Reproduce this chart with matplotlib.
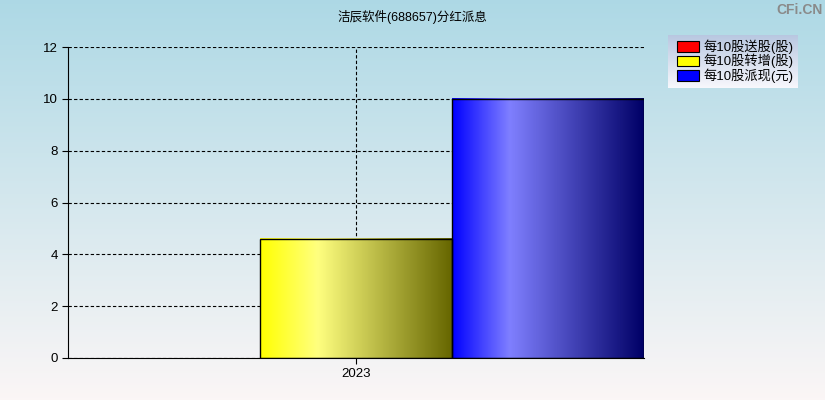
import numpy as np
import matplotlib.pyplot as plt
from matplotlib.patches import Rectangle

plt.rcParams['font.family'] = ['Liberation Sans', 'Noto Sans CJK SC', 'DejaVu Sans']

# datos
titulo = '洁辰软件(688657)分红派息'
anios = ['2023']
series = ['每10股送股(股)', '每10股转增(股)', '每10股派现(元)']
valores = [0.0, 4.6, 10.0]
colores = [(1, 0, 0), (1, 1, 0), (0, 0, 1)]


def gradiente_barra(color, n=256):
    # claro hacia el 30 % y oscuro al final
    c = np.array(color, dtype=float)
    t = np.linspace(0, 1, n)
    claro = c + (1 - c) * 0.5
    oscuro = c * 0.4
    out = np.zeros((1, n, 3))
    for i, ti in enumerate(t):
        if ti < 0.3:
            k = ti / 0.3
            out[0, i] = c * (1 - k) + claro * k
        else:
            k = (ti - 0.3) / 0.7
            out[0, i] = claro * (1 - k) + oscuro * k
    return out


fig = plt.figure(figsize=(8.25, 4), dpi=100)

# fondo degradado
fondo = fig.add_axes([0, 0, 1, 1], zorder=-10)
grad = np.linspace(0, 1, 256).reshape(-1, 1)
arriba = np.array([0.68, 0.85, 0.90])
abajo = np.array([0.985, 0.965, 0.965])
img = arriba * (1 - grad)[..., None] + abajo * grad[..., None]
fondo.imshow(img, aspect='auto', extent=[0, 1, 0, 1])
fondo.axis('off')

ax = fig.add_axes([68 / 825, 42 / 400, 576 / 825, 311 / 400])
ax.patch.set_alpha(0)

x = np.arange(len(series)) - 1
barras = ax.bar(x, valores, width=1.0, facecolor='none', edgecolor='black', linewidth=1, zorder=3)
for b, col, v in zip(barras, colores, valores):
    if v <= 0:
        b.set_visible(False)
        continue
    ax.imshow(gradiente_barra(col), aspect='auto', zorder=2,
              extent=[b.get_x(), b.get_x() + b.get_width(), 0, b.get_height()])

ax.set_xlim(-1.5, 1.5)
ax.set_ylim(0, 12)
ax.set_yticks(np.arange(0, 13, 2))
ax.set_xticks([0])
ax.set_xticklabels(anios)
ax.grid(True, color='black', linestyle=(0, (3, 2)), linewidth=0.8, zorder=1)
ax.set_axisbelow(True)
for s in ['top', 'right']:
    ax.spines[s].set_visible(False)
ax.tick_params(labelsize=9.5, length=4, color='black')

fig.text(0.5, 1 - 17 / 400, titulo, ha='center', va='center', fontsize=9)
fig.text(0.997, 1 - 10 / 400, 'CFi.CN', ha='right', va='center', fontsize=10,
         fontweight='bold', color='#8a8a8a')

# leyenda con fondo degradado
lx, ly, lw, lh = 668 / 825, 1 - 88 / 400, 130 / 825, 53 / 400
ley = fig.add_axes([lx, ly, lw, lh], zorder=5)
g2 = np.linspace(0, 1, 64).reshape(-1, 1)
c1 = np.array([0.72, 0.78, 0.88])
c2 = np.array([0.97, 0.97, 0.99])
ley.imshow(c1 * (1 - g2)[..., None] + c2 * g2[..., None], aspect='auto', extent=[0, 1, 0, 1])
ley.set_xlim(0, 1)
ley.set_ylim(0, 1)
ley.axis('off')
for i, (nom, col) in enumerate(zip(series, colores)):
    yc = 0.78 - i * 0.27
    ley.add_patch(Rectangle((0.07, yc - 0.1), 0.17, 0.2, facecolor=col, edgecolor='black', linewidth=0.8))
    ley.text(0.27, yc, nom, va='center', ha='left', fontsize=9.5)

fig.savefig('out.png', dpi=100)
